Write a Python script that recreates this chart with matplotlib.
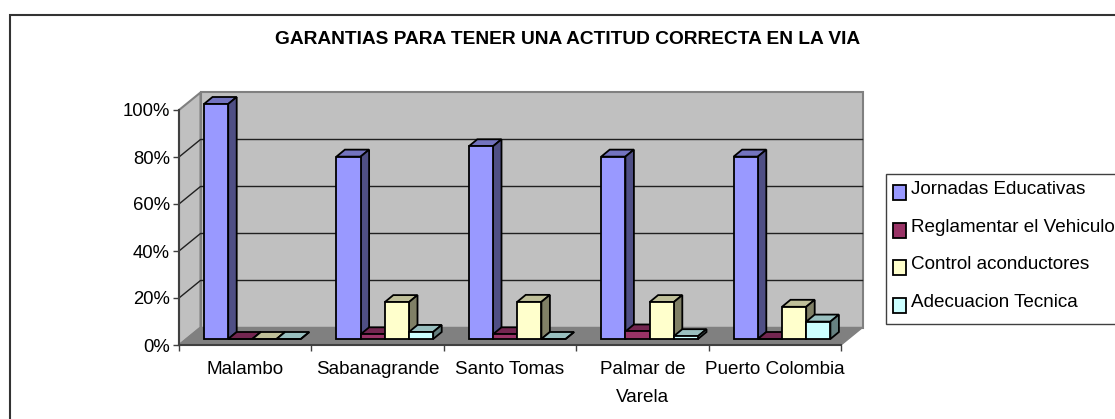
import matplotlib
matplotlib.use("Agg")
import matplotlib.pyplot as plt
from matplotlib.patches import Polygon, Rectangle

plt.rcParams['font.family'] = ['Liberation Sans', 'DejaVu Sans']

categories = ['Malambo', 'Sabanagrande', 'Santo Tomas', 'Palmar de\nVarela', 'Puerto Colombia']
jornadas = [100, 77.6, 82, 77.6, 77.6]
reglamentar = [0, 2, 2, 3.2, 0]
control = [0, 15.7, 15.8, 15.7, 13.7]
adecuacion = [0, 3, 0, 1.2, 7.4]

series = [jornadas, reglamentar, control, adecuacion]
labels = ['Jornadas Educativas', 'Reglamentar el Vehiculo', 'Control aconductores', 'Adecuacion Tecnica']
# front, top, side
colors = [('#9999FF', '#7373BF', '#4F4F85'),
          ('#993366', '#732650', '#4D1933'),
          ('#FFFFCC', '#BFBF99', '#808066'),
          ('#CCFFFF', '#99BFBF', '#668080')]
yticks = [0, 20, 40, 60, 80, 100]
ylabels = ['0%', '20%', '40%', '60%', '80%', '100%']

W, H = 1115, 419
fig = plt.figure(figsize=(W / 100, H / 100), dpi=100)
ax = fig.add_axes([179 / W, (H - 345) / H, 662 / W, 235 / H])
ax.set_xlim(0, 5)
ax.set_ylim(0, 100)
ax.patch.set_visible(False)

# pixels to data units
px = 5 / 662
py = 100 / 235
wall_dx, wall_dy = 21.5 * px, 17.5 * py
bar_dx, bar_dy = 8.5 * px, 7 * py
base = 6 * py
bar_w = 24.2 * px
start = 25 * px

# chart border, runs off the image on the right and bottom
fig.add_artist(Rectangle((10 / W, -0.1), 1.2, 1.1 - 15 / H, transform=fig.transFigure,
                         fill=False, ec='#333333', lw=1.5))

# walls and floor
ax.add_patch(Polygon([(wall_dx, wall_dy), (5 + wall_dx, wall_dy), (5 + wall_dx, 100 + wall_dy), (wall_dx, 100 + wall_dy)],
                     fc='#C0C0C0', ec='#808080', lw=1.5, clip_on=False, zorder=1))
ax.add_patch(Polygon([(0, 0), (wall_dx, wall_dy), (wall_dx, 100 + wall_dy), (0, 100)],
                     fc='#C0C0C0', ec='#808080', lw=1.5, clip_on=False, zorder=1))
ax.add_patch(Polygon([(0, 0), (5, 0), (5 + wall_dx, wall_dy), (wall_dx, wall_dy)],
                     fc='#808080', ec='#808080', lw=1, clip_on=False, zorder=1))

# gridlines, back wall and side wall
for t in yticks[1:-1]:
    ax.plot([0, wall_dx, 5 + wall_dx], [t, t + wall_dy, t + wall_dy], color='#202020', lw=1,
            clip_on=False, zorder=2)

# bars
handles = []
for s, vals in enumerate(series):
    xs = [i + start + s * bar_w for i in range(len(categories))]
    front, top, side = colors[s]
    z = 3 + s * 3
    cont = ax.bar(xs, vals, width=bar_w, bottom=base, align='edge', color=front, edgecolor='black',
                  lw=1.3, zorder=z + 2, clip_on=False, label=labels[s])
    handles.append(cont)
    for x, v in zip(xs, vals):
        y1 = base + v
        ax.add_patch(Polygon([(x, y1), (x + bar_w, y1), (x + bar_w + bar_dx, y1 + bar_dy), (x + bar_dx, y1 + bar_dy)],
                             fc=top, ec='black', lw=1.3, clip_on=False, zorder=z))
        ax.add_patch(Polygon([(x + bar_w, base), (x + bar_w + bar_dx, base + bar_dy), (x + bar_w + bar_dx, y1 + bar_dy), (x + bar_w, y1)],
                             fc=side, ec='black', lw=1.3, clip_on=False, zorder=z))

# axes
for name in ['top', 'right']:
    ax.spines[name].set_visible(False)
for name in ['left', 'bottom']:
    ax.spines[name].set_color('#404040')
    ax.spines[name].set_linewidth(1.5)
    ax.spines[name].set_zorder(2)
ax.set_yticks(yticks)
ax.set_yticklabels(ylabels, fontsize=13.3)
ax.tick_params(axis='y', length=4.5, width=1, color='#404040', pad=2, labelcolor='black')
ax.set_xticks(range(6))
ax.set_xticklabels([])
ax.tick_params(axis='x', which='major', length=4.5, width=1, color='#404040')
ax.set_xticks([i + 0.5 for i in range(5)], minor=True)
ax.set_xticklabels(categories, minor=True, fontsize=13.6, linespacing=1.85, va='top')
ax.tick_params(axis='x', which='minor', length=0, pad=11.5)

fig.text(568 / W, 1 - 39 / H, 'GARANTIAS PARA TENER UNA ACTITUD CORRECTA EN LA VIA',
         ha='center', va='center', fontsize=13.75, fontweight='bold')

# legend box is its own rectangle, it runs off the image on the right
fig.add_artist(Rectangle((886 / W, (H - 323.5) / H), 0.3, 149.5 / H, transform=fig.transFigure,
                         fc='white', ec='#404040', lw=1, zorder=1))
leg = fig.legend(handles=[h[0] for h in handles], labels=labels, loc='upper left',
                 bbox_to_anchor=(886 / W, 1 - 174 / H), bbox_transform=fig.transFigure,
                 fontsize=13.6, frameon=False,
                 borderaxespad=0, borderpad=0.37, labelspacing=1.07, handlelength=0.7, handleheight=0.7,
                 handletextpad=0.25)
for p in leg.legend_handles:
    p.set_y(p.get_y() - 4.5)
    p.set_height(10.8)

fig.savefig('out.png', dpi=100)
